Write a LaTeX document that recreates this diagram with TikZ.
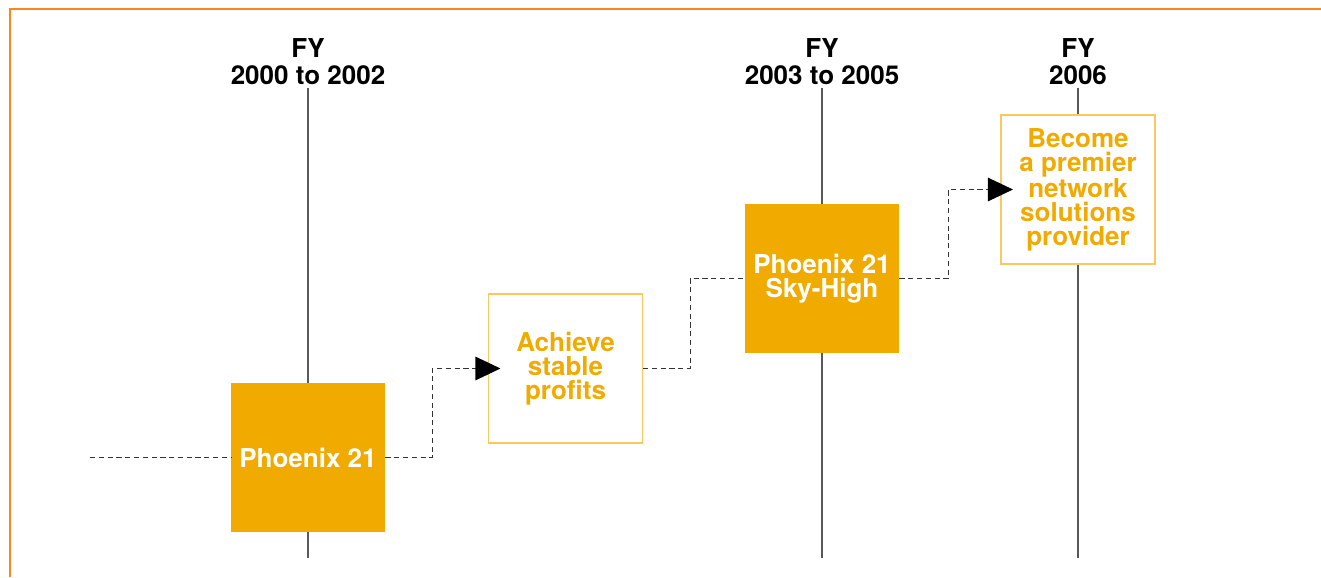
\documentclass[tikz,border=0pt]{standalone}
\usepackage{fontspec}
\setmainfont{TeX Gyre Heros}
\usetikzlibrary{arrows.meta,positioning}
\definecolor{planfill}{RGB}{240,170,0}
\definecolor{planline}{RGB}{249,200,96}
\definecolor{frameorange}{RGB}{247,136,31}
\tikzset{
  yearlabel/.style={align=center, font=\fontsize{14.8}{15.4}\selectfont\bfseries},
  timeline/.style={line width=0.6pt, color=black!65},
  planbox/.style={minimum width=3.08cm, minimum height=2.98cm, inner sep=0pt, align=center,
    font=\fontsize{14.8}{13.6}\selectfont\bfseries},
  stagebox/.style={planbox, fill=planfill, text=white},
  goalbox/.style={planbox, draw=planline, line width=0.6pt, fill=white, text=planfill},
  flowline/.style={line width=0.6pt, color=black!80, dash pattern=on 3pt off 2pt},
  flowarrow/.style={flowline, -{Triangle[length=0.5cm, width=0.47cm, color=black]}, shorten >=-0.25cm}
}

\begin{document}
\begin{tikzpicture}
			%%%%% START %%%%%
			\useasboundingbox (0, 0) rectangle (26.42, 11.54);
			
			\draw[line width=1.1pt, color=frameorange] (0.2, 0) -- (0.2, 11.36) -- (26.42, 11.36);
			
			\node[yearlabel] (fy1) at (6.16, 10.30) {FY\\2000 to 2002};
			\node[yearlabel] (fy2) at (16.44, 10.30) {FY\\2003 to 2005};
			\node[yearlabel] (fy3) at (21.56, 10.30) {FY\\2006};
			
			\draw[timeline] (6.16, 9.78) -- (6.16, 0.38);
			\draw[timeline] (16.44, 9.78) -- (16.44, 0.38);
			\draw[timeline] (21.56, 9.78) -- (21.56, 0.38);
			
			\node[stagebox] (phoenix) at (6.16, 2.39) {Phoenix 21};
			\node[goalbox] (profits) at (11.31, 4.17) {Achieve\\stable\\profits};
			\node[stagebox] (skyhigh) at (16.44, 5.97) {Phoenix 21\\Sky-High};
			\node[goalbox] (premier) at (21.56, 7.75) {Become\\a premier\\network\\solutions\\provider};
			
			\coordinate (start) at (1.8, 2.39);
			\draw[flowline] (start) -- (phoenix.west);
			\draw[flowarrow] (phoenix.east) -- ++(0.94, 0) |- (profits.west);
			\draw[flowline] (profits.east) -- ++(0.94, 0) |- (skyhigh.west);
			\draw[flowarrow] (skyhigh.east) -- ++(0.98, 0) |- (premier.west);
			
			%%%%% END %%%%%
\end{tikzpicture}
\end{document}
